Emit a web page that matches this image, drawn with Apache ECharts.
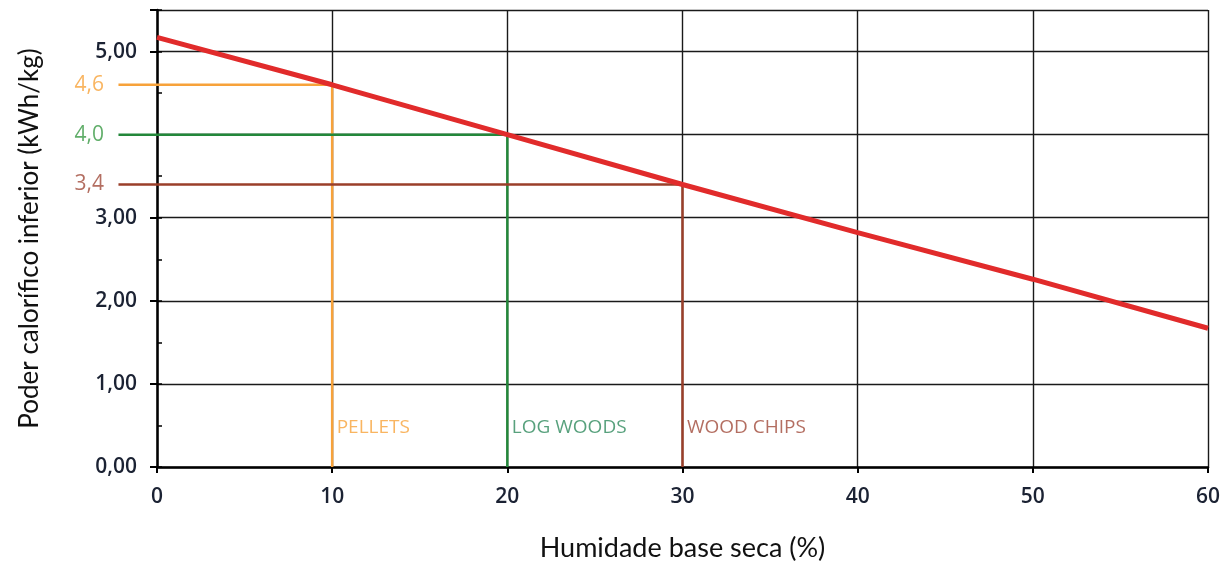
<!DOCTYPE html>
<html>
<head>
<meta charset="utf-8">
<script src="https://cdn.jsdelivr.net/npm/echarts@6/dist/echarts.min.js"></script>
<style>
  html, body { margin: 0; padding: 0; background: #fff; }
  #chart { width: 1225px; height: 561px; }
</style>
</head>
<body>
<div id="chart"></div>
<script>
// humidade (%) e poder calorífico (kWh/kg)
const humidade = [0, 10, 20, 30, 40, 50, 60]
const poder = [5.17, 4.6, 4.0, 3.4, 2.82, 2.26, 1.67]

// combustíveis de referência
const fuelNames = ['PELLETS', 'LOG WOODS', 'WOOD CHIPS']
const fuelHumidade = [10, 20, 30]
const fuelPoder = [4.6, 4.0, 3.4]
const fuelLabels = ['4,6', '4,0', '3,4']
const fuelColors = ['#f7a23a', '#23873a', '#9a3f2a']
const fuelTextColors = ['#f7a23a', '#2e8a5c', '#a04a3a']
const fuelValueColors = ['#f7a23a', '#3a9a45', '#a04a3a']
const lineStart = -2.2   // onde começa a linha horizontal (à esquerda do eixo)
const nameLevel = 0.48   // altura do texto do nome

// rótulos do eixo y escondidos (substituído pelo 4,0 verde)
const hiddenYTicks = [4]

// área do gráfico
const plotLeft = 157
const plotRight = 17
const plotTop = 10
const plotBottom = 94
const xMax = 60
const yMax = 5.5
const pxPerX = (1225 - plotLeft - plotRight) / xMax

const axisFont = { fontFamily: 'Open Sans', fontSize: 21, fontWeight: 600, color: '#1b2233' }

function fuelSeries () {
  let series = []
  fuelNames.forEach(function (name, i) {
    series.push({
      name: name,
      type: 'line',
      xAxisIndex: 1,
      yAxisIndex: 2,
      symbol: 'none',
      silent: true,
      z: 3,
      lineStyle: { color: fuelColors[i], width: 2.5 },
      data: [
        [lineStart, fuelPoder[i]],
        [fuelHumidade[i], fuelPoder[i]],
        [fuelHumidade[i], 0]
      ]
    })
    series.push({
      name: name + ' label',
      type: 'scatter',
      xAxisIndex: 1,
      yAxisIndex: 2,
      symbolSize: 1,
      silent: true,
      itemStyle: { color: 'rgba(0,0,0,0)' },
      data: [
        {
          value: [lineStart, fuelPoder[i]],
          label: {
            show: true,
            position: 'left',
            distance: 14,
            formatter: fuelLabels[i],
            color: fuelValueColors[i],
            fontFamily: 'Open Sans',
            fontSize: 21
          }
        },
        {
          value: [fuelHumidade[i], nameLevel],
          label: {
            show: true,
            position: 'right',
            distance: 4,
            formatter: name,
            color: fuelTextColors[i],
            fontFamily: 'Open Sans',
            fontSize: 19
          }
        }
      ]
    })
  })
  return series
}

const myChart = echarts.init(document.getElementById('chart'))
myChart.setOption({
  animation: false,
  grid: [
    { left: plotLeft, right: plotRight, top: plotTop, bottom: plotBottom, outerBoundsMode: 'none' },
    // mesma escala, começando à esquerda do eixo para as linhas de referência
    { left: plotLeft + lineStart * pxPerX, right: plotRight, top: plotTop, bottom: plotBottom, outerBoundsMode: 'none' }
  ],
  xAxis: [
    {
      type: 'value',
      gridIndex: 0,
      min: 0,
      max: xMax,
      interval: 10,
      name: 'Humidade base seca (%)',
      nameLocation: 'middle',
      nameGap: 68,
      nameTextStyle: { fontFamily: 'Lato', fontSize: 27, color: '#111' },
      axisLine: { show: true, lineStyle: { color: '#000', width: 2.5 } },
      axisTick: { show: true, length: 6, lineStyle: { color: '#000', width: 2 } },
      axisLabel: Object.assign({ margin: 20 }, axisFont),
      splitLine: { show: true, lineStyle: { color: '#1a1a1a', width: 1.4 } }
    },
    {
      type: 'value',
      gridIndex: 1,
      min: lineStart,
      max: xMax,
      show: false
    }
  ],
  yAxis: [
    {
      type: 'value',
      gridIndex: 0,
      min: 0,
      max: yMax,
      interval: 1,
      name: 'Poder calorífico inferior (kWh/kg)',
      nameLocation: 'middle',
      nameGap: 114,
      nameTextStyle: { fontFamily: 'Lato', fontSize: 26, color: '#111' },
      axisLine: { show: true, lineStyle: { color: '#000', width: 2.5 } },
      axisTick: { show: true, length: 7, lineStyle: { color: '#000', width: 2 } },
      axisLabel: Object.assign({
        margin: 20,
        formatter: function (v) {
          if (v % 1 !== 0 || hiddenYTicks.indexOf(v) >= 0) return ''
          return v.toFixed(2).replace('.', ',')
        }
      }, axisFont),
      splitLine: { show: true, lineStyle: { color: '#1a1a1a', width: 1.4 } }
    },
    {
      // marcas menores do eixo vertical, viradas para dentro
      type: 'value',
      gridIndex: 0,
      position: 'left',
      min: 0,
      max: yMax,
      interval: 0.5,
      axisLine: { show: false },
      axisTick: { show: true, inside: true, length: 5, lineStyle: { color: '#000', width: 1.5 } },
      axisLabel: { show: false },
      splitLine: { show: false }
    },
    {
      type: 'value',
      gridIndex: 1,
      min: 0,
      max: yMax,
      show: false
    }
  ],
  series: fuelSeries().concat([
    {
      name: 'Poder calorífico',
      type: 'line',
      xAxisIndex: 0,
      yAxisIndex: 0,
      symbol: 'none',
      z: 5,
      lineStyle: { color: '#e12b2b', width: 5 },
      data: humidade.map(function (h, i) { return [h, poder[i]] })
    }
  ])
})
window.onresize = function () {
  myChart.resize()
}
</script>
</body>
</html>
